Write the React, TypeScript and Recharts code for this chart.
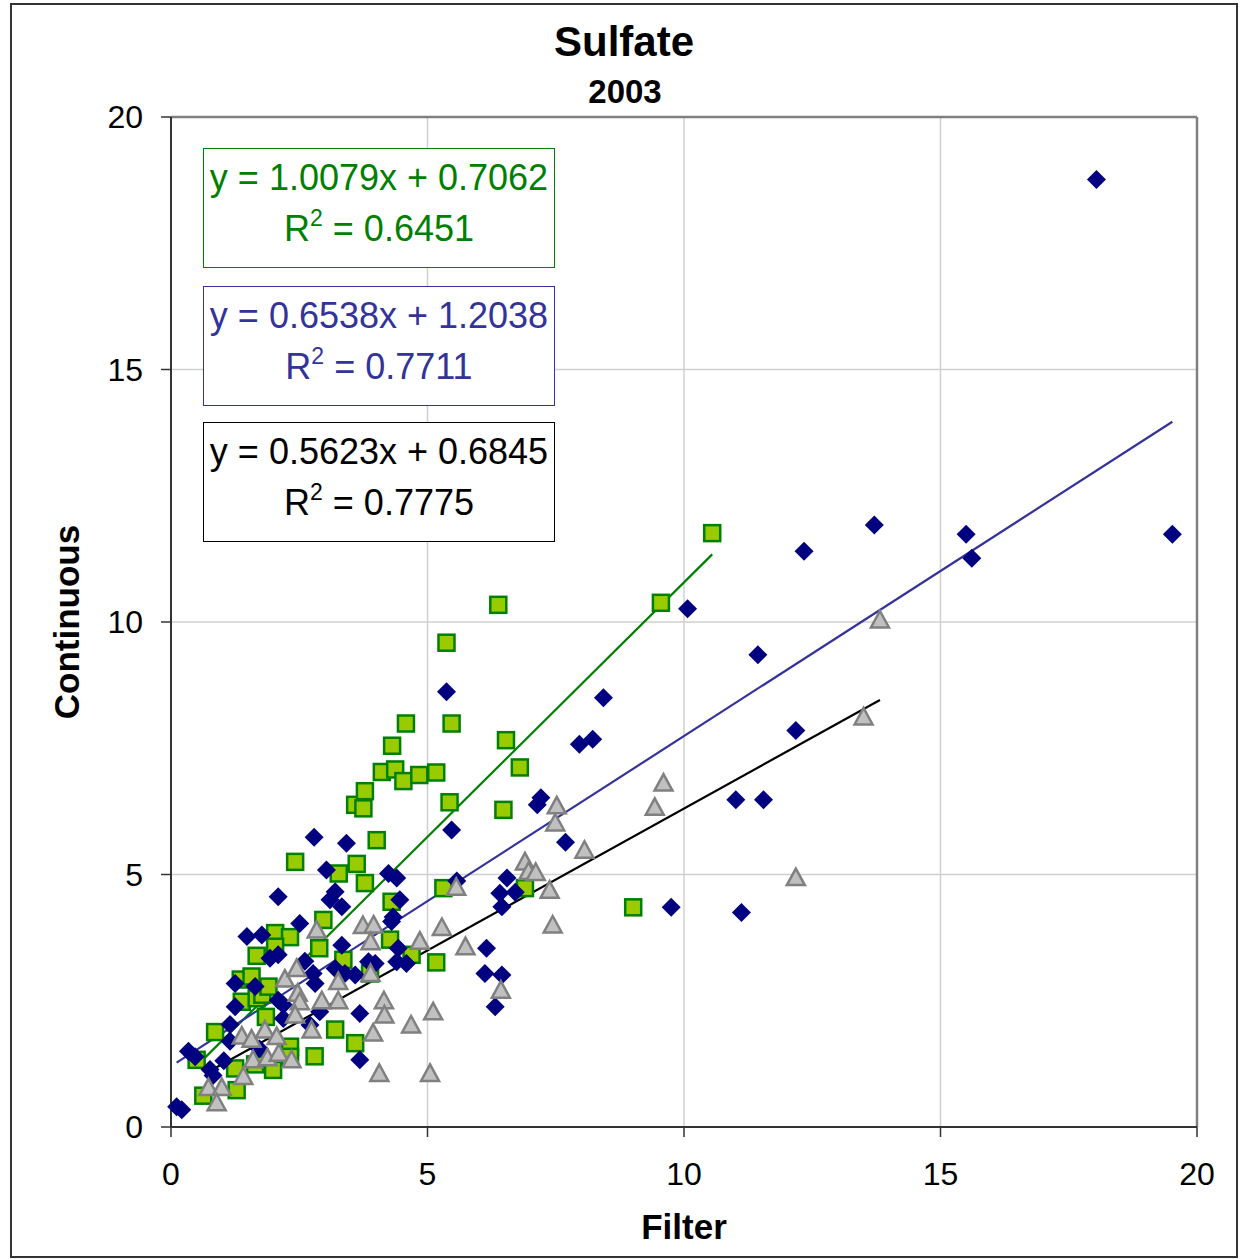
import React from 'react'
import {
  ScatterChart,
  Scatter,
  XAxis,
  YAxis,
  CartesianGrid,
  ReferenceLine,
} from 'recharts'

// continuous vs filter
const bluePoints = [
  [0.11, 0.4], [0.21, 0.34], [0.34, 1.5], [0.47, 1.39], [0.76, 1.14], [0.82, 1.02],
  [1.03, 1.31], [1.15, 2.03], [1.15, 1.7], [1.25, 2.84], [1.25, 2.38], [1.48, 3.77],
  [1.64, 2.78], [1.72, 1.55], [1.77, 3.8], [1.93, 3.34], [2.09, 3.41], [2.09, 4.56],
  [2.09, 2.51], [2.19, 2.42], [2.19, 2.15], [2.51, 4.03], [2.61, 3.28], [2.77, 3.04],
  [2.79, 5.74], [2.81, 2.84], [2.9, 2.28], [2.71, 2.02], [3.03, 5.09], [3.1, 4.5],
  [3.2, 4.66], [3.33, 4.36], [3.2, 3.14], [3.39, 3.04], [3.59, 3.01], [3.33, 3.6],
  [3.42, 5.62], [3.68, 2.25], [3.68, 1.33], [3.85, 3.27], [3.98, 3.24], [4.24, 5.02],
  [4.4, 4.93], [4.46, 4.5], [4.33, 4.16], [4.3, 4.07], [4.43, 3.54], [4.4, 3.27],
  [4.59, 3.24], [5.37, 8.62], [5.47, 5.88], [5.57, 4.87], [6.15, 3.54], [6.12, 3.04],
  [6.45, 3.01], [6.32, 2.38], [6.55, 4.93], [6.41, 4.63], [6.71, 4.65], [6.45, 4.36],
  [7.21, 6.52], [7.14, 6.38], [7.69, 5.64], [7.96, 7.58], [8.22, 7.68], [8.43, 8.5],
  [9.75, 4.35], [10.07, 10.26], [11.01, 6.48], [11.55, 6.48], [11.12, 4.25], [11.44, 9.35],
  [12.18, 7.85], [12.34, 11.4], [13.71, 11.92], [15.5, 11.74], [15.61, 11.26], [18.04, 18.76],
  [19.52, 11.74],
]

const greenPoints = [
  [0.5, 1.33], [0.63, 0.62], [0.86, 1.88], [1.25, 1.16], [1.28, 0.73], [1.36, 2.92],
  [1.57, 2.98], [1.38, 2.48], [1.67, 2.55], [1.67, 3.39], [1.64, 1.24], [1.78, 2.62],
  [1.9, 2.78], [1.85, 2.18], [1.99, 1.13], [2.03, 3.84], [2.32, 3.76], [2.03, 3.57],
  [2.32, 1.59], [2.32, 1.39], [2.42, 5.25], [2.8, 1.4], [2.89, 3.54], [2.97, 4.1],
  [3.2, 1.93], [3.27, 5.02], [3.36, 3.31], [3.59, 1.66], [3.62, 5.21], [3.59, 6.38],
  [3.75, 6.31], [3.78, 6.65], [3.78, 4.83], [3.88, 3.04], [4.01, 5.68], [4.11, 7.03],
  [4.37, 7.08], [4.31, 7.55], [4.53, 6.85], [4.58, 7.99], [4.84, 6.97], [5.17, 7.02],
  [4.27, 3.71], [4.3, 4.46], [4.69, 3.41], [5.17, 3.26], [5.31, 4.73], [5.37, 9.59],
  [5.43, 6.43], [5.47, 7.99], [6.38, 10.34], [6.48, 6.28], [6.53, 7.66], [6.8, 7.12],
  [6.9, 4.73], [9.01, 4.35], [9.55, 10.38], [10.55, 11.76],
]

const grayPoints = [
  [0.73, 0.78], [0.99, 0.78], [0.89, 0.48], [1.41, 1.0], [1.38, 1.8], [1.57, 1.74],
  [1.83, 1.92], [2.06, 1.79], [1.6, 1.33], [1.88, 1.37], [2.1, 1.46], [2.35, 1.33],
  [2.22, 2.93], [2.45, 3.14], [2.47, 2.65], [2.51, 2.48], [2.42, 2.22], [2.74, 1.92],
  [2.84, 3.9], [2.94, 2.5], [3.26, 2.88], [3.26, 2.5], [3.74, 3.99], [3.95, 4.0],
  [3.89, 3.67], [3.89, 3.04], [3.94, 1.86], [4.06, 1.06], [4.15, 2.5], [4.16, 2.22],
  [4.68, 2.02], [4.85, 3.68], [5.05, 1.06], [5.11, 2.28], [5.28, 3.95], [5.56, 4.75],
  [5.74, 3.57], [6.43, 2.71], [6.9, 5.25], [6.97, 5.06], [7.11, 5.04], [7.38, 4.69],
  [7.44, 4.0], [7.52, 6.36], [7.49, 6.02], [8.06, 5.48], [9.43, 6.33], [9.6, 6.81],
  [12.18, 4.94], [13.5, 8.12], [13.82, 10.04],
]

// linear fits as printed in the boxes: [slope, intercept, R²]
const greenFit = [1.0079, 0.7062, 0.6451]
const blueFit = [0.6538, 1.2038, 0.7711]
const grayFit = [0.5623, 0.6845, 0.7775]

const axisTicks = [0, 5, 10, 15, 20]

const FONT = '"Liberation Sans", Arial, sans-serif'

const toXY = (pts: number[][]) => pts.map(([x, y]) => ({ x, y }))

// segment spanning the series' own x range
const fitSegment = (pts: number[][], fit: number[]) => {
  const xs = pts.map((p) => p[0])
  const x1 = Math.min(...xs)
  const x2 = Math.max(...xs)
  return [
    { x: x1, y: fit[0] * x1 + fit[1] },
    { x: x2, y: fit[0] * x2 + fit[1] },
  ]
}

const Diamond = (props: any) => {
  const { cx, cy } = props
  const r = 9.5
  return (
    <polygon
      points={`${cx},${cy - r} ${cx + r},${cy} ${cx},${cy + r} ${cx - r},${cy}`}
      fill="#000080"
    />
  )
}

const Square = (props: any) => {
  const { cx, cy } = props
  return (
    <rect x={cx - 8} y={cy - 8} width={16} height={16} fill="#99cc00" stroke="#008000" strokeWidth={2.5} />
  )
}

const Triangle = (props: any) => {
  const { cx, cy } = props
  return (
    <polygon
      points={`${cx},${cy - 9} ${cx + 9},${cy + 7.5} ${cx - 9},${cy + 7.5}`}
      fill="#c0c0c0"
      stroke="#808080"
      strokeWidth={2.5}
    />
  )
}

const fmt = (v: number) => v.toFixed(4)

function EqBox({ top, color, fit }: { top: number; color: string; fit: number[] }) {
  return (
    <div
      style={{
        position: 'absolute',
        left: 203,
        top,
        width: 352,
        height: 120,
        boxSizing: 'border-box',
        border: `1px solid ${color}`,
        background: '#fff',
        color,
        fontFamily: FONT,
        fontSize: 36,
        textAlign: 'center',
        lineHeight: '51px',
        paddingTop: 3,
      }}
    >
      <div style={{ whiteSpace: 'nowrap' }}>{`y = ${fmt(fit[0])}x + ${fmt(fit[1])}`}</div>
      <div>
        R<sup style={{ fontSize: 23, verticalAlign: 'top', lineHeight: '30px' }}>2</sup>
        {` = ${fmt(fit[2])}`}
      </div>
    </div>
  )
}

export default function App() {
  const tickStyle = { fill: '#000', fontSize: 32, fontFamily: FONT }
  return (
    <div style={{ position: 'absolute', left: 0, top: 0, width: 1240, height: 1259, background: '#fff' }}>
      <div
        style={{
          position: 'absolute',
          left: 10,
          top: 3,
          width: 1228,
          height: 1255,
          boxSizing: 'border-box',
          border: '2px solid #333',
        }}
      />
      <ScatterChart
        width={1240}
        height={1259}
        margin={{ top: 117, right: 43, bottom: 72, left: 111 }}
        style={{ position: 'absolute', left: 0, top: 0 }}
      >
        <CartesianGrid stroke="#d0d0d0" strokeWidth={1.5} />
        <XAxis
          type="number"
          dataKey="x"
          domain={[0, 20]}
          ticks={axisTicks}
          height={60}
          tickSize={10}
          tickMargin={25}
          tick={tickStyle}
          axisLine={{ stroke: '#333', strokeWidth: 2 }}
          tickLine={{ stroke: '#333', strokeWidth: 1.5 }}
        />
        <YAxis
          type="number"
          dataKey="y"
          domain={[0, 20]}
          ticks={axisTicks}
          width={60}
          tickSize={10}
          tickMargin={18}
          tick={tickStyle}
          axisLine={{ stroke: '#333', strokeWidth: 2 }}
          tickLine={{ stroke: '#333', strokeWidth: 1.5 }}
        />
        <ReferenceLine y={20} stroke="#808080" strokeWidth={2.5} />
        <ReferenceLine x={20} stroke="#808080" strokeWidth={2.5} />
        <Scatter data={toXY(greenPoints)} shape={Square} isAnimationActive={false} />
        <Scatter data={toXY(bluePoints)} shape={Diamond} isAnimationActive={false} />
        <Scatter data={toXY(grayPoints)} shape={Triangle} isAnimationActive={false} />
        <ReferenceLine segment={fitSegment(greenPoints, greenFit)} stroke="#008000" strokeWidth={2.2} />
        <ReferenceLine segment={fitSegment(bluePoints, blueFit)} stroke="#333399" strokeWidth={2.2} />
        <ReferenceLine segment={fitSegment(grayPoints, grayFit)} stroke="#000" strokeWidth={2.2} />
      </ScatterChart>

      <div style={{ position: 'absolute', left: 0, width: 1248, top: 17, textAlign: 'center', fontFamily: FONT, fontWeight: 'bold', fontSize: 42, lineHeight: '50px' }}>
        Sulfate
      </div>
      <div style={{ position: 'absolute', left: 0, width: 1250, top: 72, textAlign: 'center', fontFamily: FONT, fontWeight: 'bold', fontSize: 33, lineHeight: '40px' }}>
        2003
      </div>
      <div style={{ position: 'absolute', left: 0, width: 1368, top: 1206, textAlign: 'center', fontFamily: FONT, fontWeight: 'bold', fontSize: 35, lineHeight: '42px' }}>
        Filter
      </div>
      <div
        style={{
          position: 'absolute',
          left: 67,
          top: 622,
          transform: 'translate(-50%, -50%) rotate(-90deg)',
          fontFamily: FONT,
          fontWeight: 'bold',
          fontSize: 35,
          lineHeight: '42px',
          whiteSpace: 'nowrap',
        }}
      >
        Continuous
      </div>

      <EqBox top={148} color="#008000" fit={greenFit} />
      <EqBox top={286} color="#333399" fit={blueFit} />
      <EqBox top={422} color="#000" fit={grayFit} />
    </div>
  )
}
